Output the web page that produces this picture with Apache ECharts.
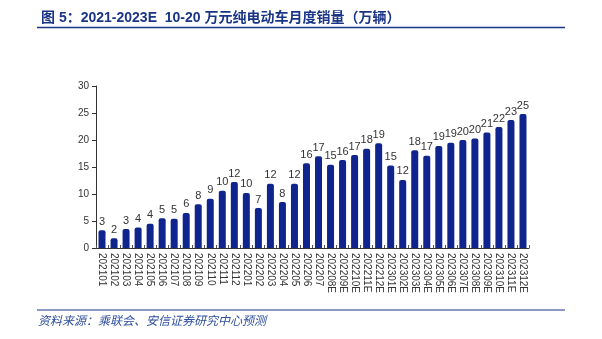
<!DOCTYPE html>
<html>
<head>
<meta charset="utf-8">
<script src="https://cdn.jsdelivr.net/npm/echarts@6/dist/echarts.min.js"></script>
<style>html,body{margin:0;padding:0;background:#fff;}#c{width:602px;height:339px;}</style>
</head>
<body>
<div id="c"></div>
<script>
var categories = ['202101','202102','202103','202104','202105','202106','202107','202108','202109','202110','202111','202112',
  '202201','202202','202203','202204','202205','202206','202207','202208E','202209E','202210E','202211E','202212E',
  '202301E','202302E','202303E','202304E','202305E','202306E','202307E','202308E','202309E','202310E','202311E','202312E'];
var sales = [3.3,1.8,3.5,3.8,4.5,5.5,5.4,6.5,8.1,9.1,10.6,12.2,
  10.2,7.4,11.9,8.5,11.9,15.7,17.0,15.4,16.3,17.2,18.4,19.4,
  15.3,12.6,18.1,17.1,18.9,19.5,20.0,20.3,21.4,22.4,23.7,24.8];
var valueLabels = ['3','2','3','4','4','5','5','6','8','9','10','12',
  '10','7','12','8','12','16','17','15','16','17','18','19',
  '15','12','18','17','19','19','20','20','21','22','23','25'];
var yTicks = [0,5,10,15,20,25,30];

var chart = echarts.init(document.getElementById('c'));
chart.setOption({
  animation: false,
  backgroundColor: '#fff',
  title: {
    text: '图 5：2021-2023E  10-20 万元纯电动车月度销量（万辆）',
    left: 36, top: 6,
    textStyle: { color: '#1B3586', fontSize: 14, fontWeight: 'bold', fontFamily: '"Liberation Sans", "Noto Sans CJK SC", sans-serif' }
  },
  graphic: [
    { type: 'line', shape: { x1: 37, y1: 27.5, x2: 565, y2: 27.5 }, style: { stroke: '#1B3586', lineWidth: 1.5 } },
    { type: 'line', shape: { x1: 37, y1: 310, x2: 565, y2: 310 }, style: { stroke: '#1B3586', lineWidth: 1.2 } },
    { type: 'text', left: 38, top: 314, style: { text: '资料来源：乘联会、安信证券研究中心预测', fill: '#2E4E9E', font: 'italic 12px "Noto Sans CJK SC", sans-serif' } }
  ],
  grid: { left: 96, right: 73, top: 86, bottom: 91, containLabel: false },
  xAxis: {
    type: 'category',
    data: categories,
    axisLine: { lineStyle: { color: '#333', width: 1 } },
    axisTick: { show: true, inside: true, length: 3, lineStyle: { color: '#555' } },
    axisLabel: { rotate: -90, interval: 0, fontSize: 10, color: '#333', margin: 5, fontFamily: '"Liberation Sans", Arial, sans-serif' }
  },
  yAxis: {
    type: 'value',
    min: 0, max: 30, interval: 5,
    axisLine: { show: true, lineStyle: { color: '#333' } },
    axisTick: { show: true, length: 4, lineStyle: { color: '#333' } },
    splitLine: { show: false },
    axisLabel: { fontSize: 10, color: '#333', margin: 7, fontFamily: '"Liberation Sans", Arial, sans-serif',
      formatter: function (v) { return yTicks.indexOf(v) >= 0 ? String(v) : ''; } }
  },
  series: [{
    type: 'bar',
    data: sales,
    barWidth: 7,
    itemStyle: { color: '#0F248C', borderRadius: [2, 2, 0, 0] },
    label: {
      show: true, position: 'top', distance: 3, fontSize: 11, color: '#333',
      fontFamily: '"Liberation Sans", Arial, sans-serif',
      formatter: function (p) { return valueLabels[p.dataIndex]; }
    }
  }]
});
</script>
</body>
</html>
